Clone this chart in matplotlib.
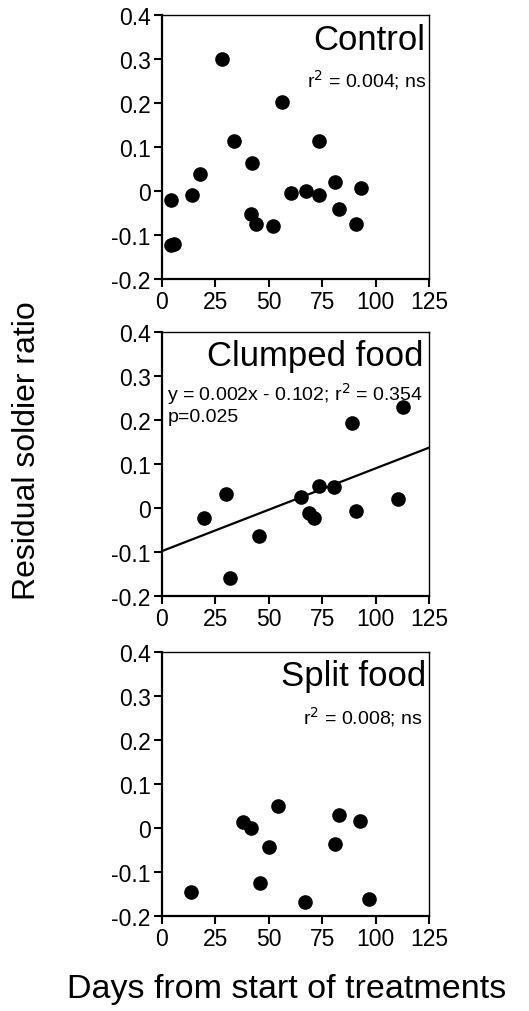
import numpy as np
import matplotlib
matplotlib.use('Agg')
import matplotlib.pyplot as plt

plt.rcParams['font.family'] = ['Liberation Sans', 'DejaVu Sans']
plt.rcParams['axes.unicode_minus'] = False

# Control
control_days = [4.2, 4.2, 5.6, 13.9, 17.9, 28.2, 33.8, 42.1, 41.9, 44.0,
                52.1, 56.4, 60.5, 67.2, 73.4, 73.4, 80.9, 82.9, 93.2, 90.9]
control_ratio = [-0.020, -0.123, -0.121, -0.010, 0.039, 0.299, 0.114, 0.064, -0.053, -0.075,
                 -0.080, 0.202, -0.004, 0.000, 0.114, -0.008, 0.020, -0.040, 0.006, -0.074]

# Clumped food
clumped_days = [19.8, 29.9, 32.0, 45.5, 65.0, 69.0, 71.1, 73.3, 80.6, 88.8, 91.0, 110.7, 112.8]
clumped_ratio = [-0.023, 0.031, -0.159, -0.063, 0.024, -0.012, -0.022, 0.051, 0.048, 0.194,
                 -0.006, 0.021, 0.229]
clumped_slope = 0.00188
clumped_intercept = -0.098

# Split food
split_days = [13.4, 37.7, 41.9, 46.0, 50.2, 54.1, 67.0, 80.9, 82.9, 92.9, 97.1]
split_ratio = [-0.145, 0.013, -0.001, -0.124, -0.044, 0.051, -0.168, -0.037, 0.030, 0.016, -0.161]

xticks = [0, 25, 50, 75, 100, 125]
yticks = [-0.2, -0.1, 0, 0.1, 0.2, 0.3, 0.4]
ytick_labels = ['-0.2', '-0.1', '0', '0.1', '0.2', '0.3', '0.4']

fig = plt.figure(figsize=(5.29, 10.12), dpi=100)

bottoms = [0.7233, 0.4101, 0.0939]
axes = [fig.add_axes([0.3062, b, 0.5047, 0.2609]) for b in bottoms]

panels = [
    (control_days, control_ratio, 'Control'),
    (clumped_days, clumped_ratio, 'Clumped food'),
    (split_days, split_ratio, 'Split food'),
]

for ax, (x, y, name) in zip(axes, panels):
    ax.plot(x, y, 'o', color='black', markersize=9.5, clip_on=False)
    ax.set_xlim(0, 125)
    ax.set_ylim(-0.2, 0.4)
    ax.set_xticks(xticks)
    ax.set_xticklabels([str(t) for t in xticks])
    ax.set_yticks(yticks)
    ax.set_yticklabels(ytick_labels)
    ax.tick_params(direction='out', length=6, width=1.5, labelsize=16.5, pad=2,
                   top=False, right=False)
    for side in ['left', 'bottom']:
        ax.spines[side].set_linewidth(1.6)
    for side in ['top', 'right']:
        ax.spines[side].set_linewidth(1.0)

# regression line in clumped panel
xl = np.array([0, 125])
axes[1].plot(xl, clumped_intercept + clumped_slope * xl, color='black', lw=1.6)

axes[0].text(0.985, 0.871, 'Control', transform=axes[0].transAxes, ha='right',
             va='baseline', fontsize=25)
axes[0].text(0.99, 0.731, r'r$^2$ = 0.004; ns', transform=axes[0].transAxes, ha='right',
             va='baseline', fontsize=14)

axes[1].text(0.978, 0.876, 'Clumped food', transform=axes[1].transAxes, ha='right',
             va='baseline', fontsize=25)
axes[1].text(0.02, 0.743, r'y = 0.002x - 0.102; r$^2$ = 0.354', transform=axes[1].transAxes,
             ha='left', va='baseline', fontsize=14)
axes[1].text(0.02, 0.662, 'p=0.025', transform=axes[1].transAxes,
             ha='left', va='baseline', fontsize=14)

axes[2].text(0.99, 0.876, 'Split food', transform=axes[2].transAxes, ha='right',
             va='baseline', fontsize=25)
axes[2].text(0.976, 0.73, r'r$^2$ = 0.008; ns', transform=axes[2].transAxes, ha='right',
             va='baseline', fontsize=14)

fig.text(27 / 529, 1 - 451 / 1012, 'Residual soldier ratio', rotation=90,
         ha='center', va='center', fontsize=23)
fig.text(287 / 529, 1 - 990 / 1012, 'Days from start of treatments',
         ha='center', va='center', fontsize=24.5)

fig.savefig('out.png', dpi=100)
